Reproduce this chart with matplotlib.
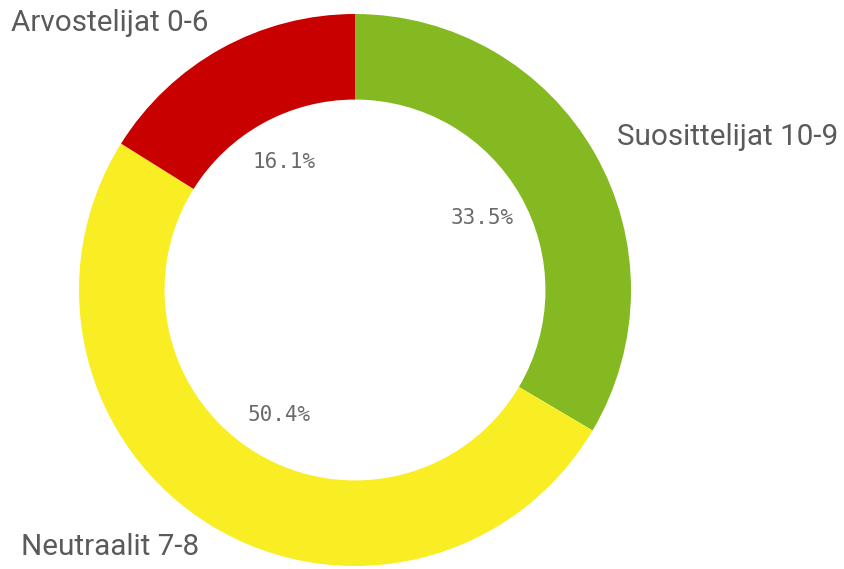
import matplotlib
matplotlib.use("Agg")
import matplotlib.pyplot as plt

categories = ["Suosittelijat 10-9", "Neutraalit 7-8", "Arvostelijat 0-6"]
values = [33.5, 50.4, 16.1]
colors = ["#85B922", "#F9EE23", "#C80000"]

W, H = 844, 569
fig = plt.figure(figsize=(W / 100, H / 100), dpi=100)
ax = fig.add_axes([0, 0, 1, 1])

cx, cy, R = 355, H - 290, 276
wedges, texts, autotexts = ax.pie(
    values, colors=colors, startangle=90, counterclock=False,
    center=(cx, cy), radius=R, autopct="%.1f%%", pctdistance=0.53,
    wedgeprops=dict(width=R * 0.31, linewidth=0),
    textprops=dict(fontsize=15, color="#6a6a6a", family="DejaVu Sans Mono"),
    frame=True,
)
ax.set_xlim(0, W)
ax.set_ylim(0, H)
ax.set_aspect("equal")
ax.axis("off")

label_pos = {
    "Arvostelijat 0-6": (11, H - 23, "left"),
    "Suosittelijat 10-9": (617, H - 137, "left"),
    "Neutraalit 7-8": (21, H - 547, "left"),
}
for name in categories:
    x, y, ha = label_pos[name]
    ax.text(x, y, name, ha=ha, va="center", fontsize=21.3, color="#5a5a5a",
            family="Roboto")

fig.savefig("out.png", dpi=100)
